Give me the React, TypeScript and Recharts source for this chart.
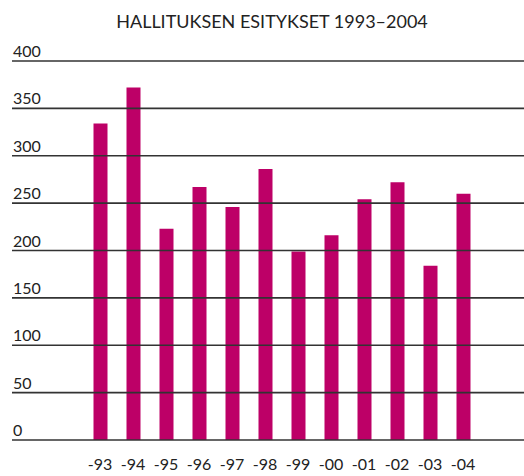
import { Bar, BarChart, ReferenceLine, XAxis, YAxis } from "recharts";

const years = ["-93", "-94", "-95", "-96", "-97", "-98", "-99", "-00", "-01", "-02", "-03", "-04"];
const proposals = [334, 372, 223, 267, 246, 286, 199, 216, 254, 272, 184, 260];
const yTicks = [0, 50, 100, 150, 200, 250, 300, 350, 400];

const data = years.map((year, i) => ({ year, value: proposals[i] }));

const font = "Lato, 'Open Sans', sans-serif";

function YTick({ y, payload }: any) {
  return (
    <text x={13} y={y - 4} fill="#222" fontSize={16} fontFamily={font}>
      {payload.value}
    </text>
  );
}

function XTick({ x, payload }: any) {
  return (
    <text x={x} y={470} fill="#222" fontSize={16} fontFamily={font} textAnchor="middle">
      {payload.value}
    </text>
  );
}

export default function App() {
  return (
    <div style={{ position: "absolute", left: 0, top: 0, width: 524, height: 476, background: "#fff" }}>
      <div
        style={{
          position: "absolute",
          top: 10,
          left: 0,
          width: 544,
          textAlign: "center",
          fontFamily: font,
          fontSize: 18,
          color: "#222",
        }}
      >
        HALLITUKSEN ESITYKSET 1993–2004
      </div>
      <BarChart
        width={524}
        height={476}
        data={data}
        margin={{ top: 61, right: 0, left: 0, bottom: 0 }}
      >
        <XAxis
          dataKey="year"
          axisLine={false}
          tickLine={false}
          height={36}
          padding={{ left: 71.5, right: 44.5 }}
          tick={<XTick />}
          interval={0}
        />
        <YAxis
          domain={[0, 400]}
          ticks={yTicks}
          axisLine={false}
          tickLine={false}
          width={12}
          tick={<YTick />}
        />
        <Bar dataKey="value" fill="#bd0067" barSize={14} isAnimationActive={false} />
        {yTicks.map((t) => (
          <ReferenceLine key={t} y={t} stroke="#333" strokeWidth={1.6} />
        ))}
      </BarChart>
    </div>
  );
}
